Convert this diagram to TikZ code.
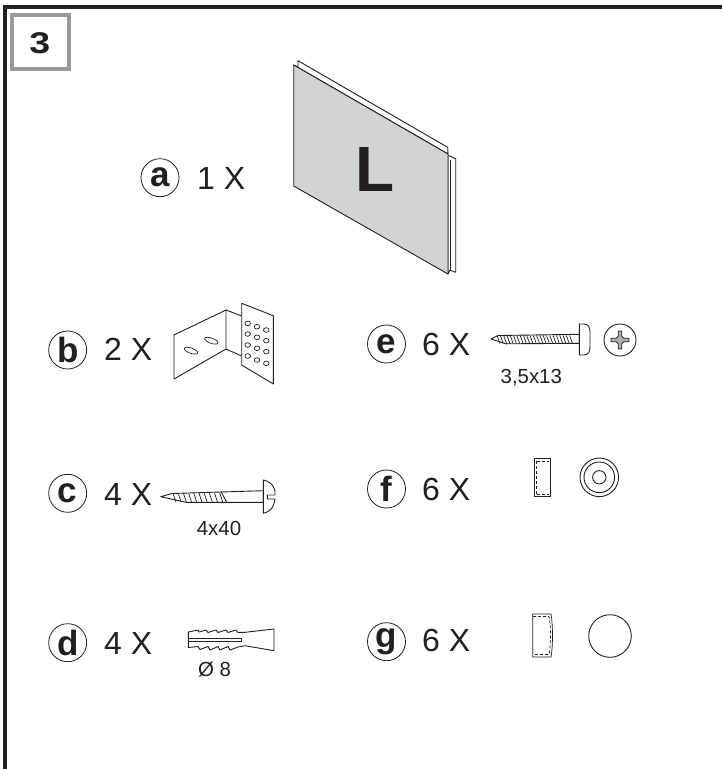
\documentclass[tikz,border=0pt]{standalone}
\usepackage{fontspec}
\setmainfont{Liberation Sans}
\definecolor{ink}{HTML}{231F20}
\definecolor{panel}{HTML}{D1D3D4}
\definecolor{boxgrey}{HTML}{999999}
\tikzset{
 part/.style={draw=ink,line width=0.9pt,line join=round},
 thin part/.style={draw=ink,line width=0.7pt},
 ring/.style={circle,draw=ink,line width=0.8pt,minimum size=38pt,inner sep=0pt,font=\fontsize{35}{35}\selectfont\bfseries,text=ink},
 qty/.style={font=\fontsize{32}{32}\selectfont,text=ink,inner sep=0pt},
 dim/.style={font=\fontsize{20.4}{20.4}\selectfont,text=ink,inner sep=0pt}
}
\begin{document}
\begin{tikzpicture}[x=1pt,y=-1pt]
\useasboundingbox (0,0) rectangle (722,769);
\fill[white] (0,0) rectangle (722,769);
% frame
\draw[ink,line width=4pt] (5.3,769) -- (5.3,7) -- (722,7);
\draw[boxgrey,line width=4pt,fill=white] (12,15.3) rectangle (68.7,69);
\node[inner sep=0pt,text=ink] (num) at (39.8,42.8) {\fontsize{30}{30}\selectfont\bfseries\addfontfeature{FakeStretch=1.25}3};
% panel a
\draw[part,fill=white] (293.7,65) -- (298,67) -- (298,60.7) -- (447.7,147.3) -- (448,154) -- cycle;
\draw[part,fill=white] (448,155.3) -- (455.7,158.7) -- (455.7,272.3) -- (450,270) -- (448,274) -- cycle;
\draw[thin part] (450,160) -- (450,270);
\draw[part,fill=panel] (293.7,65) -- (448,154) -- (448,274) -- (293.7,186) -- cycle;
\node[inner sep=0pt,text=ink] (letterL) at (375,169) {\fontsize{64}{64}\selectfont\bfseries L};
% bracket b
\draw[part] (174,335) -- (226,310) -- (226,349) -- (174,379) -- cycle;
\draw[part] (226,310) -- (241.7,316) (226,349) -- (241.7,356);
\draw[part,fill=white] (241.7,303.3) -- (273.3,315.7) -- (273.3,384) -- (241.7,365) -- cycle;
\foreach \px/\py in {247.7/323.3,257/326.7,266.3/330,247.7/334,257/337.3,266.3/340.7,247.7/345,257/348.3,266.3/351.7,247.7/356,257/360,266.3/363.3}
  \draw[thin part] (\px,\py) ellipse (2.8 and 2.3);
\draw[thin part,rotate around={-20:(191,350.7)}] (191,350.7) ellipse (7 and 2.6);
\draw[thin part,rotate around={-20:(211.3,340.7)}] (211.3,340.7) ellipse (7 and 2.6);
% screw e
\draw[part,fill=white] (491,339) -- (498,335.5) -- (579.3,334.3) -- (579.3,343.3) -- (506,343.8) -- cycle;
\foreach \k in {0,...,22}
  \draw[thin part] ({497+\k*3.3},{335.4}) -- ({500+\k*3.3},{343.6});
\draw[part,fill=white] (579.3,324) -- (584,324) .. controls (588,324) and (590,327) .. (590,332) -- (590,347) .. controls (590,352) and (588,355) .. (584,355) -- (579.3,355) -- cycle;
\draw[part] (620,340) circle (16);
\fill[gray!65] (620,331) .. controls (620.6,336) and (624,339.4) .. (629,340) .. controls (624,340.6) and (620.6,344) .. (620,349) .. controls (619.4,344) and (616,340.6) .. (611,340) .. controls (616,339.4) and (619.4,336) .. (620,331) -- cycle;
\draw[thin part,fill=gray!65] (618.3,331) -- (621.7,331) -- (621.7,336) -- (624,338.3) -- (629,338.3) -- (629,341.7) -- (624,341.7) -- (621.7,344) -- (621.7,349) -- (618.3,349) -- (618.3,344) -- (616,341.7) -- (611,341.7) -- (611,338.3) -- (616,338.3) -- (618.3,336) -- cycle;
% screw c
\draw[part,fill=white] (160.7,496.7) -- (172,493.5) -- (263.3,490.7) -- (263.3,502.3) -- (186,502.3) -- cycle;
\foreach \k in {0,...,9}
  \draw[thin part] ({173+\k*5.2},{493.2}) -- ({176+\k*5.2},{502.3});
\draw[part] (221,491.5) -- (226.7,502.3);
\draw[part,fill=white] (263.3,480) .. controls (273,482) and (276,490) .. (275,495) -- (267.3,495) -- (267.3,499) -- (275,499) .. controls (274,506) and (272,511) .. (263.3,513.3) -- cycle;
% dowel d
\draw[part,fill=white] (188.3,632) -- (198,630) -- (199,632) -- (206,630) -- (208,632.5) -- (216,630) -- (218,632.5) -- (226,630) -- (228,632.5) -- (236,630) -- (238,632.5) -- (245,632.3) -- (274,629) -- (274,650.7) -- (245,645.7) -- (238,647) -- (230,650) -- (228,646.5) -- (220,650) -- (218,646.5) -- (210,650) -- (208,646.5) -- (200,649.5) -- (198,646.5) -- (188.3,647.5) -- cycle;
\draw[part,fill=white] (188.3,638.3) -- (241.7,638.3) -- (241.7,641.7) -- (188.3,641.7) -- cycle;
% cap f
\draw[thin part] (534.3,458.3) rectangle (550.7,496.7);
\draw[thin part,densely dashed] (536.5,461) -- (548.5,461) (536.5,494) -- (548.5,494) (536.5,461) -- (536.5,494);
\draw[part] (599.3,477.3) circle (19.3) circle (15.3) circle (6.7);
% cap g
\draw[thin part] (532.7,614) -- (551,614) .. controls (553,625) and (553,646) .. (551,657) -- (532.7,657) -- cycle;
\draw[thin part,densely dashed] (533,616.5) -- (549,616.5) .. controls (551,625) and (551,646) .. (549,654.5) -- (533,654.5);
\draw[part] (610,636) circle (21.3);
% labels
\node[ring] (la) at (160,177.7) {a};
\node[qty,anchor=west] (qa) at (197,178) {1 X};
\node[ring] (lb) at (67.7,350) {b};
\node[qty,anchor=west] (qb) at (104,349) {2 X};
\node[ring] (le) at (386.5,344) {e};
\node[qty,anchor=west] (qe) at (422,344.7) {6 X};
\node[dim] (de) at (531.3,377.5) {3,5x13};
\node[ring] (lc) at (67.7,493.3) {c};
\node[qty,anchor=west] (qc) at (104,494) {4 X};
\node[dim] (dc) at (219,528) {4x40};
\node[ring] (lf) at (386.5,489) {f};
\node[qty,anchor=west] (qf) at (422,489.7) {6 X};
\node[ring] (ld) at (67.7,642.7) {d};
\node[qty,anchor=west] (qd) at (104,643.7) {4 X};
\node[dim] (dd) at (214.5,669) {Ø 8};
\node[ring] (lg) at (386.5,641.7) {g};
\node[qty,anchor=west] (qg) at (422,640.5) {6 X};
\end{tikzpicture}
\end{document}
